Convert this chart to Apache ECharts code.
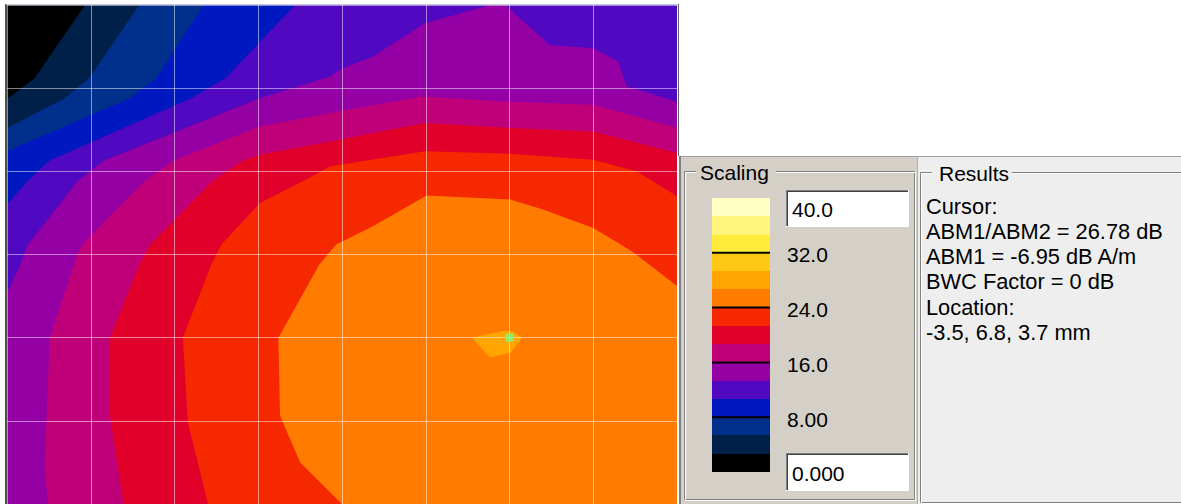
<!DOCTYPE html>
<html>
<head>
<meta charset="utf-8">
<script src="https://cdn.jsdelivr.net/npm/echarts@6/dist/echarts.min.js"></script>
<style>
html, body { margin: 0; padding: 0; background: #fff; }
#main { width: 1181px; height: 504px; }
</style>
</head>
<body>
<div id="main"></div>
<script>
// 色阶: 等值线分级 (dB) 与颜色, 从低到高
var bandEdges = [0, 2.67, 5.33, 8, 10.67, 13.33, 16, 18.67, 21.33, 24, 26.67, 29.33, 32, 34.67, 37.33, 40];
var bandColors = ['#000000', '#00204a', '#00308c', '#0018c0', '#5008c0', '#9400a4', '#c00078',
                  '#e0002a', '#f52800', '#ff7c00', '#ffa400', '#ffc814', '#ffeb3c', '#fff47c', '#ffffc4'];

// 等值线 (网格单位: x 0..8, y 0..6 自上而下), 从边界起点到边界终点, 高值区在行进方向右侧
var iso2_67 = [[0, 1.13], [0.33, 0.88], [0.93, 0]];
var iso5_33 = [[0, 1.48], [0.69, 1.12], [0.98, 0.88], [1.58, 0]];
var iso8_00 = [[0, 1.76], [1.47, 1.12], [1.62, 1.0], [1.78, 0.88], [2.35, 0]];
var iso10_67 = [[0, 2.40], [0.25, 2.11], [0.51, 1.87], [2.20, 1.12], [2.40, 1.0], [2.61, 0.88], [3.44, 0]];
var iso13_33 = [[0, 3.46], [0.16, 3.12], [0.25, 2.88], [0.85, 2.11], [1.16, 1.87], [3.02, 1.12], [3.86, 0.86],
                [4.01, 0.76], [4.37, 0.62], [4.99, 0.22], [5.77, 0], [5.95, 0], [6.48, 0.48], [7.0, 0.52],
                [7.30, 0.68], [7.40, 0.98], [8, 1.16]];
var iso16_00 = [[0.49, 6], [0.45, 5.54], [0.51, 4.0], [0.84, 3.0], [0.90, 2.88], [1.65, 2.11], [1.99, 1.87],
                [3.02, 1.46], [3.86, 1.30], [4.96, 1.10], [5.92, 1.16], [7.0, 1.2], [8, 1.48]];
var iso18_67 = [[1.39, 6], [1.23, 4.94], [1.23, 4.0], [1.58, 3.12], [1.71, 2.88], [2.46, 2.11], [2.82, 1.87],
                [3.02, 1.80], [3.86, 1.64], [4.99, 1.42], [6.01, 1.48], [7.0, 1.52], [8, 1.78]];
var iso21_33 = [[2.40, 6], [2.16, 5.02], [2.10, 4.0], [2.44, 3.12], [2.56, 2.88], [3.02, 2.38], [3.55, 2.11],
                [3.86, 1.94], [4.99, 1.76], [6.01, 1.79], [7.0, 1.86], [7.52, 2.0], [8, 2.30]];
var iso24_00 = [[4.0, 6], [3.50, 5.50], [3.26, 4.94], [3.24, 4.0], [3.73, 3.12], [3.93, 2.88], [4.37, 2.66],
                [5.01, 2.29], [6.01, 2.34], [6.40, 2.46], [7.0, 2.68], [7.46, 2.96], [8, 3.38]];
var iso26_67 = [[5.55, 4.0], [5.92, 3.92], [6.03, 3.92], [6.15, 4.0], [6.01, 4.18], [5.77, 4.24]]; // 闭合小区域

var cursorPos = [6.0, 4.0];

// 色标刻度
var scaleTicks = [8, 16, 24, 32];
var scaleTickLabels = ['8.00', '16.0', '24.0', '32.0'];
var scaleMaxText = '40.0';
var scaleMinText = '0.000';

// 结果面板文字
var resultLines = ['Cursor:', 'ABM1/ABM2 = 26.78 dB', 'ABM1 = -6.95 dB A/m', 'BWC Factor = 0 dB', 'Location:', '-3.5, 6.8, 3.7 mm'];

var isoLines = [iso2_67, iso5_33, iso8_00, iso10_67, iso13_33, iso16_00, iso18_67, iso21_33, iso24_00, iso26_67];
var closedIso = [false, false, false, false, false, false, false, false, false, true];

var X_MAX = 8, Y_MAX = 6;
var PERIM = 2 * (X_MAX + Y_MAX);
var corners = [[0, [0, 0]], [X_MAX, [X_MAX, 0]], [X_MAX + Y_MAX, [X_MAX, Y_MAX]], [2 * X_MAX + Y_MAX, [0, Y_MAX]]];

// 点在边界上的顺时针位置
function perimT(p) {
    if (p[1] === 0) return p[0];
    if (p[0] === X_MAX) return X_MAX + p[1];
    if (p[1] === Y_MAX) return X_MAX + Y_MAX + (X_MAX - p[0]);
    return 2 * X_MAX + Y_MAX + (Y_MAX - p[1]);
}
// 沿边界顺时针把等值线闭合成高值区域
function closeRegion(line) {
    var pts = line.slice();
    var t0 = perimT(line[line.length - 1]);
    var span = (perimT(line[0]) - t0 + PERIM) % PERIM;
    corners.map(function (c) { return [(c[0] - t0 + PERIM) % PERIM, c[1]]; })
        .filter(function (c) { return c[0] > 0 && c[0] < span; })
        .sort(function (a, b) { return a[0] - b[0]; })
        .forEach(function (c) { pts.push(c[1]); });
    return pts;
}

var FONT = '"Liberation Sans", Arial, sans-serif';
var chart = echarts.init(document.getElementById('main'), null, { renderer: 'svg' });

function text(x, y, s, extra) {
    var st = { text: s, x: x, y: y, fill: '#000', font: '21px ' + FONT, verticalAlign: 'middle' };
    for (var k in extra) st[k] = extra[k];
    return { type: 'text', z: 50, style: st };
}
function line(x1, y1, x2, y2, color, w, z) {
    return { type: 'line', z: z || 40, shape: { x1: x1, y1: y1, x2: x2, y2: y2 }, style: { stroke: color, lineWidth: w || 1 } };
}
function rect(x, y, w, h, fill, z) {
    return { type: 'rect', z: z || 30, shape: { x: x, y: y, width: w, height: h }, style: { fill: fill } };
}
// 凹陷输入框
function editBox(x, y, w, h, s) {
    return [
        rect(x, y, w, h, '#ffffff', 35),
        line(x + 0.5, y + h, x + 0.5, y + 0.5, '#808080', 1, 41), line(x, y + 0.5, x + w, y + 0.5, '#808080', 1, 41),
        line(x + 1.5, y + h - 1, x + 1.5, y + 1.5, '#404040', 1, 41), line(x + 1, y + 1.5, x + w - 1, y + 1.5, '#404040', 1, 41),
        line(x + w - 0.5, y, x + w - 0.5, y + h, '#ffffff', 1, 41), line(x, y + h - 0.5, x + w, y + h - 0.5, '#ffffff', 1, 41),
        text(x + 6, y + h / 2 + 1, s)
    ];
}
// 分组框
function groupFrame(x, y, w, h, title, bg) {
    return [
        { type: 'rect', z: 36, shape: { x: x + 0.5, y: y + 0.5, width: w, height: h }, style: { fill: null, stroke: '#808080', lineWidth: 1 } },
        { type: 'rect', z: 36, shape: { x: x + 1.5, y: y + 1.5, width: w, height: h }, style: { fill: null, stroke: '#ffffff', lineWidth: 1 } },
        rect(x + 12, y - 8, title.w, 18, bg, 37),
        text(x + title.dx, y + 1, title.s)
    ];
}

var graphics = [].concat(
    // 绘图区边框
    [line(6, 4, 6, 504, '#505050', 2, 60), line(6, 4.5, 678, 4.5, '#c8c8d8', 1, 60), line(678.5, 4, 678.5, 156, '#606060', 1, 60)],
    // 面板背景
    [rect(679, 156, 240, 348, '#d4d0c8', 20), rect(918, 156, 263, 348, '#eeeeee', 20),
     line(679, 156.5, 1181, 156.5, '#a0a0a0', 1, 25), line(680, 156, 680, 504, '#808080', 2, 25),
     line(917.5, 156, 917.5, 504, '#b0b0b0', 1, 25)],
    groupFrame(684, 171, 230, 328, { s: 'Scaling', w: 80, dx: 16 }, '#d4d0c8'),
    groupFrame(920, 172, 300, 330, { s: 'Results', w: 80, dx: 19 }, '#eeeeee'),
    editBox(786, 190, 123, 37, scaleMaxText),
    editBox(786, 453, 123, 38, scaleMinText),
    resultLines.map(function (s, i) { return text(926, 206 + 25.3 * i, s, { font: '21.8px ' + FONT }); })
);

var option = {
    animation: false,
    backgroundColor: '#ffffff',
    grid: [
        { left: 7, top: 5, width: 670, height: 500 },
        { left: 712, top: 198, width: 58, height: 274 }
    ],
    xAxis: [
        {
            gridIndex: 0, type: 'value', min: 0, max: X_MAX, interval: 1, z: 5,
            axisLine: { show: false }, axisTick: { show: false }, axisLabel: { show: false },
            splitLine: { lineStyle: { color: 'rgba(255,255,255,0.5)', width: 1 } }
        },
        { gridIndex: 1, type: 'value', min: 0, max: 1, show: false, splitLine: { show: false } }
    ],
    yAxis: [
        {
            gridIndex: 0, type: 'value', min: 0, max: Y_MAX, interval: 1, inverse: true, z: 5,
            axisLine: { show: false }, axisTick: { show: false }, axisLabel: { show: false },
            splitLine: { lineStyle: { color: 'rgba(255,255,255,0.5)', width: 1 } }
        },
        { gridIndex: 1, type: 'value', min: 0, max: 40, show: false, splitLine: { show: false } }
    ],
    series: [
        {
            // 等值线填充
            type: 'custom', xAxisIndex: 0, yAxisIndex: 0, z: 1, silent: true,
            data: bandColors.slice(0, isoLines.length + 1).map(function (c, i) { return [i]; }),
            renderItem: function (params, api) {
                var k = api.value(0);
                var pts;
                if (k === 0) pts = [[0, 0], [X_MAX, 0], [X_MAX, Y_MAX], [0, Y_MAX]];
                else if (closedIso[k - 1]) pts = isoLines[k - 1];
                else pts = closeRegion(isoLines[k - 1]);
                return {
                    type: 'polygon',
                    shape: { points: pts.map(function (p) { return api.coord(p); }) },
                    style: { fill: bandColors[k], stroke: null, lineWidth: 0 }
                };
            }
        },
        {
            // 光标
            type: 'scatter', xAxisIndex: 0, yAxisIndex: 0, z: 10, silent: true,
            symbol: 'rect', symbolSize: 8,
            itemStyle: { color: '#7dfb7d' },
            data: [cursorPos]
        },
        {
            // 色标: 每一级从其下限画到顶部, 后画的覆盖前者, 避免缝隙
            type: 'custom', xAxisIndex: 1, yAxisIndex: 1, z: 45, silent: true,
            data: bandColors.map(function (c, i) { return [i]; }),
            renderItem: function (params, api) {
                var i = api.value(0);
                var p0 = api.coord([0, bandEdges[i]]);
                var p1 = api.coord([1, bandEdges[bandEdges.length - 1]]);
                return {
                    type: 'rect',
                    shape: { x: p0[0], y: Math.round(p1[1]), width: p1[0] - p0[0], height: Math.round(p0[1]) - Math.round(p1[1]) },
                    style: { fill: bandColors[i], stroke: null, lineWidth: 0 }
                };
            }
        },
        {
            // 色标刻度线与标签
            type: 'custom', xAxisIndex: 1, yAxisIndex: 1, z: 46, silent: true,
            data: scaleTicks.map(function (v, i) { return [i, v]; }),
            renderItem: function (params, api) {
                var i = api.value(0), v = api.value(1);
                var a = api.coord([0, v]), b = api.coord([1, v]);
                return {
                    type: 'group',
                    children: [
                        { type: 'line', shape: { x1: a[0], y1: a[1], x2: b[0], y2: b[1] }, style: { stroke: '#000', lineWidth: 2 } },
                        { type: 'text', style: { text: scaleTickLabels[i], x: b[0] + 17, y: b[1] + 2, fill: '#000', font: '21px ' + FONT, verticalAlign: 'middle' } }
                    ]
                };
            }
        }
    ],
    graphic: { elements: graphics }
};

chart.setOption(option);
</script>
</body>
</html>
